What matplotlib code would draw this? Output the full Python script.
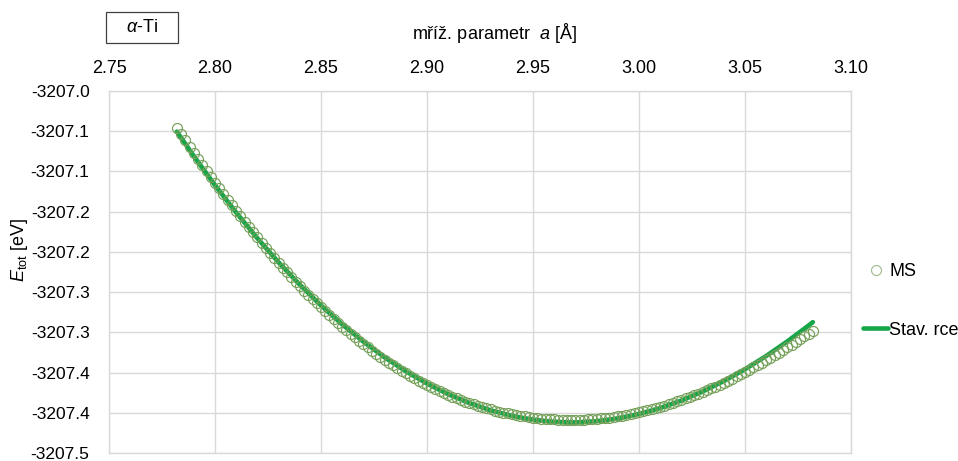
import matplotlib
matplotlib.use("Agg")
import matplotlib.pyplot as plt
from matplotlib.patches import Rectangle

plt.rcParams["font.family"] = ["Liberation Sans", "DejaVu Sans"]
plt.rcParams["mathtext.fontset"] = "custom"
plt.rcParams["mathtext.rm"] = "Liberation Sans"
plt.rcParams["mathtext.it"] = "Liberation Sans:italic"

# MS data points: lattice parameter a [A] and total energy [eV]
ms_a = [2.782, 2.784, 2.786, 2.788, 2.790, 2.792, 2.794, 2.796, 2.798, 2.800,
        2.802, 2.804, 2.806, 2.808, 2.810, 2.812, 2.814, 2.816, 2.818, 2.820,
        2.822, 2.824, 2.826, 2.828, 2.830, 2.832, 2.834, 2.836, 2.838, 2.840,
        2.842, 2.844, 2.846, 2.848, 2.850, 2.852, 2.854, 2.856, 2.858, 2.860,
        2.862, 2.864, 2.866, 2.868, 2.870, 2.872, 2.874, 2.876, 2.878, 2.880,
        2.882, 2.884, 2.886, 2.888, 2.890, 2.892, 2.894, 2.896, 2.898, 2.900,
        2.902, 2.904, 2.906, 2.908, 2.910, 2.912, 2.914, 2.916, 2.918, 2.920,
        2.922, 2.924, 2.926, 2.928, 2.930, 2.932, 2.934, 2.936, 2.938, 2.940,
        2.942, 2.944, 2.946, 2.948, 2.950, 2.952, 2.954, 2.956, 2.958, 2.960,
        2.962, 2.964, 2.966, 2.968, 2.970, 2.972, 2.974, 2.976, 2.978, 2.980,
        2.982, 2.984, 2.986, 2.988, 2.990, 2.992, 2.994, 2.996, 2.998, 3.000,
        3.002, 3.004, 3.006, 3.008, 3.010, 3.012, 3.014, 3.016, 3.018, 3.020,
        3.022, 3.024, 3.026, 3.028, 3.030, 3.032, 3.034, 3.036, 3.038, 3.040,
        3.042, 3.044, 3.046, 3.048, 3.050, 3.052, 3.054, 3.056, 3.058, 3.060,
        3.062, 3.064, 3.066, 3.068, 3.070, 3.072, 3.074, 3.076, 3.078, 3.080,
        3.082]
ms_e = [-3207.0455, -3207.0534, -3207.0613, -3207.0690, -3207.0767, -3207.0843, -3207.0918, -3207.0993, -3207.1066, -3207.1141,
        -3207.1212, -3207.1283, -3207.1354, -3207.1423, -3207.1491, -3207.1559, -3207.1626, -3207.1692, -3207.1757, -3207.1821,
        -3207.1886, -3207.1949, -3207.2012, -3207.2074, -3207.2135, -3207.2195, -3207.2255, -3207.2313, -3207.2371, -3207.2428,
        -3207.2482, -3207.2535, -3207.2588, -3207.2639, -3207.2690, -3207.2740, -3207.2789, -3207.2837, -3207.2885, -3207.2931,
        -3207.2976, -3207.3020, -3207.3063, -3207.3105, -3207.3146, -3207.3187, -3207.3227, -3207.3266, -3207.3304, -3207.3341,
        -3207.3376, -3207.3411, -3207.3444, -3207.3477, -3207.3509, -3207.3540, -3207.3571, -3207.3600, -3207.3629, -3207.3657,
        -3207.3683, -3207.3708, -3207.3732, -3207.3756, -3207.3779, -3207.3800, -3207.3821, -3207.3841, -3207.3861, -3207.3879,
        -3207.3897, -3207.3914, -3207.3930, -3207.3945, -3207.3959, -3207.3973, -3207.3985, -3207.3997, -3207.4008, -3207.4018,
        -3207.4028, -3207.4038, -3207.4046, -3207.4054, -3207.4061, -3207.4067, -3207.4073, -3207.4077, -3207.4081, -3207.4083,
        -3207.4086, -3207.4088, -3207.4090, -3207.4090, -3207.4090, -3207.4088, -3207.4086, -3207.4083, -3207.4080, -3207.4075,
        -3207.4071, -3207.4066, -3207.4060, -3207.4053, -3207.4045, -3207.4037, -3207.4028, -3207.4018, -3207.4007, -3207.3995,
        -3207.3983, -3207.3970, -3207.3956, -3207.3942, -3207.3926, -3207.3910, -3207.3893, -3207.3876, -3207.3857, -3207.3838,
        -3207.3820, -3207.3802, -3207.3782, -3207.3762, -3207.3741, -3207.3720, -3207.3697, -3207.3674, -3207.3651, -3207.3626,
        -3207.3601, -3207.3575, -3207.3549, -3207.3522, -3207.3494, -3207.3465, -3207.3436, -3207.3406, -3207.3375, -3207.3344,
        -3207.3314, -3207.3283, -3207.3252, -3207.3220, -3207.3187, -3207.3154, -3207.3120, -3207.3086, -3207.3050, -3207.3015,
        -3207.2978]

# equation of state fit ("Stav. rce")
fit_a = [2.782, 2.79, 2.80, 2.81, 2.82, 2.83, 2.84, 2.85, 2.86, 2.87, 2.88,
         2.89, 2.90, 2.91, 2.92, 2.93, 2.94, 2.95, 2.96, 2.97, 2.98, 2.99,
         3.00, 3.01, 3.02, 3.03, 3.04, 3.05, 3.06, 3.07, 3.08, 3.082]
fit_e = [-3207.0505, -3207.0809, -3207.1171, -3207.1511, -3207.1831, -3207.2130,
         -3207.2408, -3207.2665, -3207.2901, -3207.3116, -3207.3311, -3207.3484,
         -3207.3637, -3207.3769, -3207.3879, -3207.3969, -3207.4038, -3207.4086,
         -3207.4113, -3207.4120, -3207.4105, -3207.4070, -3207.4015, -3207.3941,
         -3207.3848, -3207.3736, -3207.3606, -3207.3459, -3207.3294, -3207.3112,
         -3207.2915, -3207.2873]

x_ticks = [2.75, 2.80, 2.85, 2.90, 2.95, 3.00, 3.05, 3.10]
y_ticks = [-3207.0, -3207.05, -3207.1, -3207.15, -3207.2, -3207.25,
           -3207.3, -3207.35, -3207.4, -3207.45]
y_labels = ["-3207.0", "-3207.1", "-3207.1", "-3207.2", "-3207.2",
            "-3207.3", "-3207.3", "-3207.4", "-3207.4", "-3207.5"]

FS = 13
GRID = "#d9d9d9"

fig = plt.figure(figsize=(9.58, 4.61), dpi=100)
ax = fig.add_axes([109 / 958, 1 - 453 / 461, 742 / 958, 362 / 461])

ax.plot(fit_a, fit_e, color="#16a548", lw=3.3, solid_capstyle="round",
        zorder=2, label="Stav. rce")
ax.plot(ms_a, ms_e, ls="none", marker="o", ms=7.2, mfc="none",
        mec="#76a05a", mew=0.85, zorder=3, label="MS")

ax.set_xlim(2.75, 3.10)
ax.set_ylim(-3207.45, -3207.0)
ax.set_xticks(x_ticks)
ax.set_xticklabels([f"{v:.2f}" for v in x_ticks])
ax.set_yticks(y_ticks)
ax.set_yticklabels(y_labels)
ax.xaxis.tick_top()
ax.tick_params(axis="both", length=0, labelsize=FS, colors="black")
ax.tick_params(axis="x", pad=10)
ax.tick_params(axis="y", pad=14, labelsize=12.5)
ax.grid(True, color=GRID, lw=1.0)
ax.set_axisbelow(True)
for sp in ax.spines.values():
    sp.set_color(GRID)
    sp.set_linewidth(1.0)
# last y label sits on the bottom edge; lift it a few pixels so it is not clipped
ax.get_yticklabels()[-1].set_y(-3207.4465)

# axis titles
fig.text(494 / 958, 1 - 33 / 461, r"mříž. parametr  $a$ [Å]", ha="center",
         va="center", fontsize=FS)
fig.text(19 / 958, 1 - 250 / 461, r"$E_{\mathrm{tot}}$ [eV]", rotation=90,
         ha="center", va="center", fontsize=FS)

# alpha-Ti box
fig.patches.append(Rectangle((106 / 958, 1 - 43 / 461), 72 / 958, 31 / 461,
                             transform=fig.transFigure, fill=False,
                             edgecolor="#404040", lw=0.9))
fig.text(142 / 958, 1 - 28 / 461, r"$\alpha$-Ti", ha="center", va="center",
         fontsize=FS)

# legend, MS on top
h, l = ax.get_legend_handles_labels()
leg = fig.legend([h[1], h[0]], [l[1], l[0]], loc="center left",
                 bbox_to_anchor=(863 / 958, 1 - 301 / 461), frameon=False,
                 fontsize=FS, borderpad=0, borderaxespad=0, labelspacing=2.3,
                 handlelength=1.4, handletextpad=0.05)
leg.legend_handles[0].set_markeredgecolor("#a3bd93")

fig.savefig("out.png", dpi=100)
